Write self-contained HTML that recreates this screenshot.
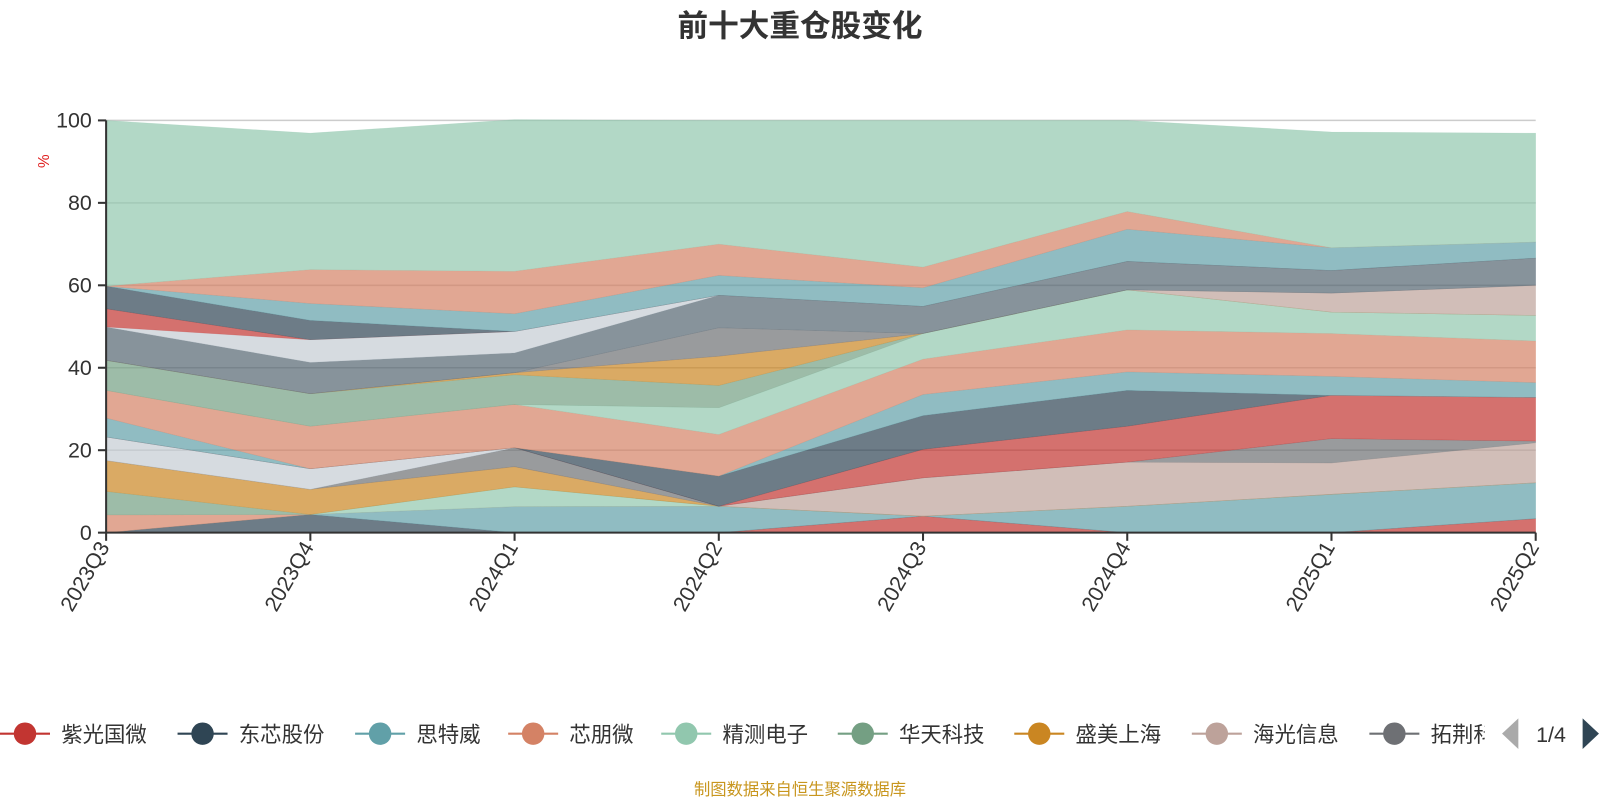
<!DOCTYPE html>
<html><head><meta charset="utf-8">
<style>
body{margin:0;background:#fff;width:1600px;height:800px;overflow:hidden;font-family:"Liberation Sans","Noto Sans CJK SC",sans-serif;}
svg text{font-family:"Liberation Sans","Noto Sans CJK SC",sans-serif;}
</style></head>
<body>
<svg id="chart" width="1600" height="800" xmlns="http://www.w3.org/2000/svg">
<defs><clipPath id="lgclip"><rect x="0" y="690" width="1455" height="60"/></clipPath></defs>
<g transform="scale(1.0204)">
<text x="784" y="36" text-anchor="middle" font-size="30" font-weight="bold" fill="#333">前十大重仓股变化</text>
<text x="0" y="0" transform="translate(48,158) rotate(-90)" text-anchor="middle" font-size="15" fill="#e02020">%</text>
<g id="grid"></g><g id="areas"></g><g id="axes"></g><g id="legend"></g>
<text x="784" y="779" text-anchor="middle" font-size="16" fill="#c8961e">制图数据来自恒生聚源数据库</text>
</g>
</svg>
<script>
const categories=["2023Q3","2023Q4","2024Q1","2024Q2","2024Q3","2024Q4","2025Q1","2025Q2"];
const yTicks=[0,20,40,60,80,100];
const legendNames=["紫光国微","东芯股份","思特威","芯朋微","精测电子","华天科技","盛美上海","海光信息","拓荆科技"];
const s0=[0,0,0,0,4.0,0,0,3.4];
const s1=[0,4.4,0,0,0,0,0,0];
const s2=[0,0,6.3,6.4,0,6.4,9.3,8.7];
const s3=[4.3,0,0,0,0,0,0,0];
const s4=[0,0,4.8,0,0,0,0,0];
const s5=[5.7,0,0,0,0,0,0,0];
const s6=[7.5,6.1,4.9,0,0,0,0,0];
const s7=[0,0,0,0,9.3,10.7,7.6,9.7];
const s8=[0,0,4.6,0,0,0,5.9,0.4];
const s9=[0,0,0,0,0,0,0,0];
const s10=[5.7,5.0,0,0,0,0,0,0];
const s11=[0,0,0,0,6.9,8.7,10.5,10.6];
const s12=[0,0,0,7.3,8.2,8.7,0,0];
const s13=[4.6,0,0,0,5.1,4.5,4.6,3.6];
const s14=[6.7,10.3,10.5,10.1,8.6,10.2,10.4,10.1];
const s15=[0,0,0,6.5,6.2,9.7,5.2,6.2];
const s16=[7.3,7.9,7.2,5.4,0,0,0,0];
const s17=[0,0,0.5,7.1,0,0,0,0];
const s18=[0,0,0,0,0,0,4.6,7.3];
const s19=[0,0,0,6.9,0,0,0,0];
const s20=[8.1,7.6,4.8,7.9,6.6,6.9,5.5,6.6];
const s21=[0,5.5,5.2,0,0,0,0,0];
const s22=[4.4,0,0,0,0,0,0,0];
const s23=[5.5,4.7,0,0,0,0,0,0];
const s24=[0,4.1,4.3,4.8,4.5,7.8,5.5,3.9];
const s25=[0,8.2,10.3,7.6,5.0,4.3,0,0];
const s26=[40.2,33.1,36.8,30.0,35.6,22.1,28.1,26.4];
const seriesList=[s0,s1,s2,s3,s4,s5,s6,s7,s8,s9,s10,s11,s12,s13,s14,s15,s16,s17,s18,s19,s20,s21,s22,s23,s24,s25,s26];
const palette=['#c23531','#2f4554','#61a0a8','#d48265','#91c7ae','#749f83','#ca8622','#bda29a','#6e7074','#546570','#c4ccd3'];
const NS="http://www.w3.org/2000/svg";
const X0=104,X1=1505,Y0=522,Y1=118;
const xPos=i=>X0+(X1-X0)*i/(categories.length-1);
const yPos=v=>Y0-(Y0-Y1)*v/100;
function mk(tag,attrs,parent){const e=document.createElementNS(NS,tag);for(const k in attrs)e.setAttribute(k,attrs[k]);parent.appendChild(e);return e;}
const grid=document.getElementById('grid'),areas=document.getElementById('areas'),axes=document.getElementById('axes'),legend=document.getElementById('legend');
yTicks.forEach(t=>{
  const l=mk('line',{x1:X0,x2:X1,y1:yPos(t),y2:yPos(t),stroke:'#ccc','stroke-width':1.5},grid);
  
  
  const tk=mk('line',{x1:X0-8,x2:X0,y1:yPos(t),y2:yPos(t),stroke:'#333','stroke-width':2},axes);
  
  
  const tx=mk('text',{x:X0-14,y:yPos(t)+7,'text-anchor':'end','font-size':21,fill:'#333'},axes);
  tx.textContent=t;
  
  
});
let cum=categories.map(()=>0);
seriesList.forEach((s,si)=>{
  const lower=cum.slice();
  const upper=cum.map((c,i)=>c+s[i]);
  let pts=upper.map((v,i)=>xPos(i)+','+yPos(v));
  for(let i=lower.length-1;i>=0;i--)pts.push(xPos(i)+','+yPos(lower[i]));
  const p=mk('polygon',{points:pts.join(' '),fill:palette[si%palette.length],'fill-opacity':0.7,stroke:palette[si%palette.length],'stroke-opacity':0.3,'stroke-width':0.5},areas);
  
  
  cum=upper;
});
const ya=mk('line',{x1:X0,x2:X0,y1:Y1,y2:Y0,stroke:'#333','stroke-width':2},axes);


const xa=mk('line',{x1:X0,x2:X1,y1:Y0,y2:Y0,stroke:'#333','stroke-width':2},axes);


categories.forEach((c,i)=>{
  const tk=mk('line',{x1:xPos(i),x2:xPos(i),y1:Y0,y2:Y0+8,stroke:'#333','stroke-width':2},axes);
  
  
  const tx=mk('text',{x:0,y:0,transform:`translate(${xPos(i)+4},${Y0+14}) rotate(-60)`,'text-anchor':'end','font-size':21,fill:'#333'},axes);
  tx.textContent=c;
  
  
});
const legendX=[0,174,348,498,648,821,994,1168,1342];
legendNames.forEach((n,i)=>{
  const x0=legendX[i];
  const g=mk('g',{},legend);
  
  
  if(i===8)g.setAttribute('clip-path','url(#lgclip)');
  mk('line',{x1:x0,x2:x0+49,y1:719,y2:719,stroke:palette[i],'stroke-width':2},g);
  mk('circle',{cx:x0+24.5,cy:719,r:11,fill:palette[i]},g);
  const t=mk('text',{x:x0+60,y:727,'font-size':21,fill:'#333'},g);
  t.textContent=n;
});
const pl=mk('polygon',{points:'1472,719 1488,704 1488,734',fill:'#aaa'},legend);


const pt=mk('text',{x:1520,y:727,'text-anchor':'middle','font-size':21,fill:'#333'},legend);
pt.textContent='1/4';


const pn=mk('polygon',{points:'1567,719 1551,704 1551,734',fill:'#2f4554'},legend);


</script>
</body></html>
